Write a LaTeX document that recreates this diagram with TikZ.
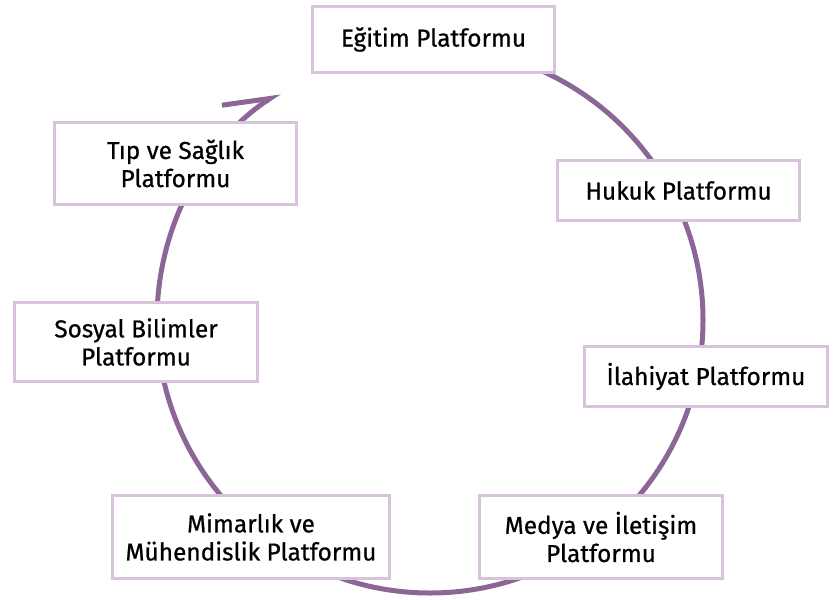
\documentclass[tikz,border=0pt]{standalone}
\usepackage{fontspec}
\setmainfont{Fira Sans}
\newfontfamily\platformfont{Fira Sans}[FakeBold=0.7]
\usetikzlibrary{arrows.meta}

\definecolor{ringpurple}{RGB}{140,102,150}
\definecolor{boxlilac}{RGB}{216,196,218}

\tikzset{platform/.style={draw=boxlilac, line width=0.06cm, fill=white, align=center,
    minimum width=4.86cm, inner sep=0pt, font=\platformfont\fontsize{13.9}{16}\selectfont}}

\begin{document}
\begin{tikzpicture}[x=0.02cm, y=-0.02cm]
    \useasboundingbox (0, 0) rectangle (839, 599);
    \coordinate (O) at (430, 320);

    \draw[ringpurple, line width=0.1cm, -{Straight Barb[left, length=0.88cm, width=0.84cm]}]
        (O) ++(270:273) arc[start angle=270, end angle=596.5, radius=273]; % ring

    \node[platform, minimum height=1.32cm] (egitim) at (433.5, 39.5) {Eğitim Platformu};
    \node[platform, minimum height=1.2cm] (hukuk) at (678.5, 190.5) {Hukuk Platformu};
    \node[platform, minimum height=1.2cm] (ilahiyat) at (706, 376.5) {İlahiyat Platformu};
    \node[platform, minimum height=1.66cm] (medya) at (601, 537) {Medya ve İletişim\\Platformu};
    \node[platform, minimum width=5.54cm, minimum height=1.66cm] (mimarlik) at (251, 537) {Mimarlık ve\\Mühendislik Platformu};
    \node[platform, minimum height=1.58cm] (sosyal) at (136, 342) {Sosyal Bilimler\\Platformu};
    \node[platform, minimum height=1.64cm] (tip) at (175.5, 163.5) {Tıp ve Sağlık\\Platformu};
\end{tikzpicture}
\end{document}
